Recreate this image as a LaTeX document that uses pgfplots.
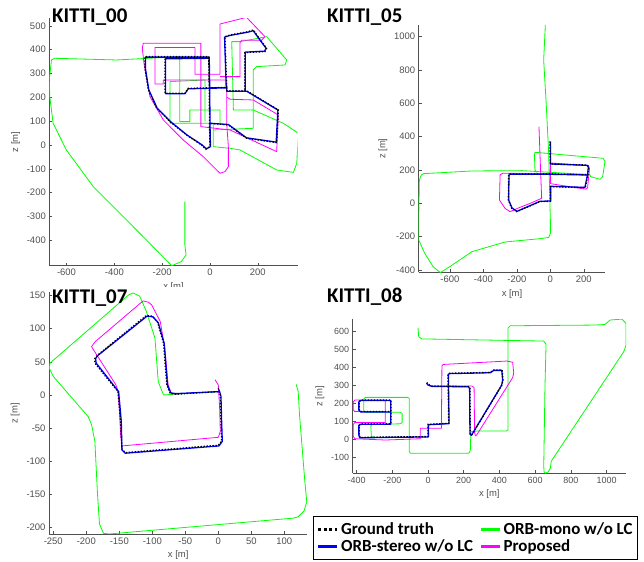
\documentclass[border=0pt]{standalone}
\usepackage{pgfplots}
\pgfplotsset{compat=1.18}
\usepackage{fontspec}
\setmainfont{Liberation Sans}
\newfontfamily\calfont{Carlito}
\definecolor{tickgray}{RGB}{80,80,80}
\definecolor{mgreen}{RGB}{0,255,0}
\definecolor{mmag}{RGB}{255,0,255}
\definecolor{mblue}{RGB}{0,0,255}
\pgfplotsset{
 kitti/.style={
  scale only axis, anchor=south west,
  axis x line*=bottom, axis y line*=left,
  axis line style={draw=tickgray, line width=0.6bp},
  tick style={draw=tickgray, line width=0.5bp},
  tick align=inside, major tick length=3bp,
  /pgf/number format/assume math mode=true,
  /pgf/number format/1000 sep={},
  tick label style={font=\fontsize{9.5}{10}\selectfont, text=tickgray},
  label style={font=\fontsize{9.5}{10}\selectfont, text=tickgray},
  xlabel={x [m]}, ylabel={z [m]},
 },
 gt/.style={black, line width=1.3bp, dash pattern=on 1.3bp off 1.7bp, forget plot},
 st/.style={mblue, line width=1.3bp, line join=round, forget plot},
 mo/.style={mgreen, line width=0.8bp, line join=round, forget plot},
 pr/.style={mmag, line width=0.8bp, line join=round, forget plot},
}
\begin{document}
\begin{tikzpicture}
\path[use as bounding box] (0bp,0bp) rectangle (644bp,562bp);
% ---------------- KITTI_00
\begin{axis}[kitti, at={(49.3bp,296.3bp)}, width=248.4bp, height=247.4bp,
  xmin=-672, xmax=367, ymin=-507, ymax=532,
  xtick={-600,-400,-200,0,200}, ytick={-400,-300,...,500}]
\addplot[mo] coordinates {(-105,-238) (-105,-420) (-100,-462) (-120,-490) (-160,-507) (-321,-343) (-488,-175) (-600,-22) (-656,91) (-670,203) (-672,273) (-663,357) (-649,364) (-391,357) (-126,371) (-126,98) (-84,98) (-84,147) (42,147) (42,84)};
\addplot[mo] coordinates {(-21,100) (-21,273) (-167,266) (-167,91) (14,91) (14,-7) (84,-14) (126,-21) (279,-105) (349,-115) (363,-77) (370,49) (307,91) (181,147) (98,147) (91,434) (126,434) (237,455) (321,357) (314,336) (195,329) (181,315) (181,70) (14,63)};
\addplot[pr] coordinates {(77,-7) (77,-91) (63,-112) (42,-119) (-28,-49) (-112,21) (-195,105) (-251,203) (-276,343) (-283,406) (-279,427) (-38,427) (-38,77) (84,63) (279,-28) (286,126) (181,189) (84,192) (72,200)};
\addplot[pr] coordinates {(77,-7) (70,90) (70,273) (-153,273) (-195,273) (-195,256) (-230,256) (-230,409) (-63,409) (-63,297) (42,297) (42,508) (153,536) (230,455) (216,440) (132,440) (126,430) (126,287) (42,287)};
\addplot[st] coordinates {(2,0) (0,91) (-1,240) (-3,369) (-270,369) (-270,322) (-256,232) (-221,155) (-165,98) (-96,42) (-33,0) (-15,-16) (2,-7) (2,0) (0,91) (77,86) (153,30) (277,12) (284,147) (153,226) (70,226) (70,240) (-3,238) (-91,236) (-105,215) (-186,215) (-186,362) (-3,364) (-1,240) (68,240) (61,453) (84,460) (160,474) (181,480) (214,434) (235,406) (228,394) (148,390) (148,228)};
\addplot[gt] coordinates {(0,0) (-2,91) (-3,240) (-5,371) (-272,371) (-272,322) (-258,232) (-223,155) (-167,98) (-98,42) (-35,0) (-17,-18) (0,-7) (0,0) (-2,91) (77,84) (153,28) (279,10) (286,147) (153,228) (70,228) (70,242) (-3,240) (-91,238) (-105,217) (-188,217) (-188,364) (-5,366) (-3,240) (70,242) (63,455) (84,462) (160,476) (181,483) (216,434) (237,406) (230,392) (146,388) (146,228)};
\end{axis}
\fill[white] (0bp,0bp) rectangle (322bp,275bp);
% ---------------- KITTI_05
\begin{axis}[kitti, at={(418.7bp,289.7bp)}, width=186.6bp, height=247.3bp,
  xmin=-786, xmax=328, ymin=-414, ymax=1070,
  xtick={-600,-400,-200,0,200}, ytick={-400,-200,...,1000}]
\addplot[mo] coordinates {(-30,1070) (-40,860) (-25,600) (-10,300) (-5,100) (0,-100) (0,-180) (-10,-205) (-60,-212) (-269,-232) (-468,-290) (-600,-380) (-657,-416) (-700,-380) (-750,-300) (-786,-220) (-786,-100) (-782,140) (-770,170) (-756,178) (-468,194) (-169,196) (0,186) (236,172) (240,160) (297,144) (312,160) (326,250) (316,270) (-92,306) (-95,290) (-92,200) (-80,186)};
\addplot[pr] coordinates {(-68,460) (-60,240) (-52,30) (-120,0) (-181,-24) (-241,-50) (-271,-30) (-304,20) (-300,170) (-285,180) (0,178) (230,170)};
\addplot[pr] coordinates {(0,118) (0,242) (226,226) (234,210) (222,92) (210,85) (0,118)};
\addplot[st] coordinates {(0,370) (1,236) (218,228) (227,218) (222,172) (206,95) (193,96) (2,102) (2,14) (-62,12) (-199,-48) (-229,-28) (-249,20) (-247,170) (-239,174) (2,174) (222,170)};
\addplot[gt] coordinates {(-2,372) (-1,236) (218,230) (229,220) (225,172) (209,95) (195,94) (0,100) (0,12) (-62,10) (-201,-50) (-231,-30) (-251,20) (-249,170) (-241,176) (0,176) (225,172)};
\end{axis}
% ---------------- KITTI_07
\begin{axis}[kitti, at={(49bp,28bp)}, width=258.3bp, height=241.7bp,
  xmin=-256.5, xmax=134.8, ymin=-210, ymax=155,
  xtick={-250,-200,...,100}, ytick={-200,-150,...,150}]
\addplot[mo] coordinates {(118,16) (121,5) (123,-30) (131,-130) (134,-161) (130,-175) (121,-184) (114,-186) (-154,-209) (-165,-210) (-174,-209) (-180,-195) (-183,-150) (-187,-70) (-192,-45) (-197,-33) (-250,28) (-256,40) (-255,48) (-136,151) (-129,154) (-119,149) (-109,126) (-96,86) (-91,20) (-83,0) (-3,5)};
\addplot[pr] coordinates {(-5,23) (0,15) (2,-20) (3,-55) (0,-64) (-146,-77) (-148,-60) (-150,-20) (-152,5) (-155,15) (-189,68) (-192,73) (-187,80) (-114,142) (-106,140) (-101,136) (-88,111) (-81,70) (-76,15) (-71,2) (-60,1)};
\addplot[st] coordinates {(1,8) (4,-2) (5,-40) (6,-70) (1,-77) (-141,-88) (-146,-83) (-147,-40) (-151,5) (-185,48) (-186,55) (-182,60) (-108,119) (-99,118) (-91,109) (-82,78) (-77,15) (-72,3) (-64,2) (1,5)};
\addplot[gt] coordinates {(0,10) (3,0) (4,-40) (5,-70) (0,-76) (-141,-87) (-146,-82) (-148,-40) (-152,5) (-187,48) (-187,55) (-183,60) (-109,120) (-100,119) (-92,110) (-83,78) (-78,15) (-73,3) (-65,1) (0,5)};
\end{axis}
% ---------------- KITTI_08
\begin{axis}[kitti, at={(352.7bp,88.7bp)}, width=273.3bp, height=154bp,
  xmin=-421.6, xmax=1108.6, ymin=-187, ymax=669,
  xtick={-400,-200,...,1000}, ytick={-100,0,...,600},
  tick label style={font=\fontsize{9}{10}\selectfont, text=tickgray},
  legend columns=2,
  legend cell align=left,
  legend image code/.code={\draw[#1] (0bp,0bp) -- (19bp,0bp);},
  legend style={at={(-0.1453,-0.2775)}, anchor=north west, draw=black, line width=1.2bp,
    fill=white, font=\calfont\bfseries\fontsize{17}{19}\selectfont,
    inner xsep=3bp, inner ysep=4bp,
    /tikz/every even column/.append style={column sep=4bp}}]
\addlegendimage{black, line width=3bp, dash pattern=on 3bp off 2.5bp}
\addlegendentry{Ground truth}
\addlegendimage{mgreen, line width=3.5bp}
\addlegendentry{ORB-mono w/o LC}
\addlegendimage{mblue, line width=3.5bp}
\addlegendentry{ORB-stereo w/o LC}
\addlegendimage{mmag, line width=3.5bp}
\addlegendentry{Proposed}
\addplot[mo] coordinates {(-56,622) (-52,572) (-35,560) (648,548) (661,530) (655,300) (648,-150) (650,-178) (657,-187) (672,-180) (685,-159) (690,-120) (1096,489) (1109,526) (1109,646) (1086,670) (1020,665) (990,640) (937,637) (461,633) (448,620) (448,54) (440,48) (274,48) (240,44) (237,-60) (228,-76) (-99,-76) (-105,-65) (-105,230) (-115,235) (-351,235) (-360,225) (-360,160) (-350,152) (-155,152) (-145,145) (-145,95) (-155,88) (-314,85) (-320,75) (-317,17) (-300,14)};
\addplot[pr] coordinates {(5,310) (10,298) (246,298) (258,290) (261,40) (265,22) (272,25) (474,345) (480,370) (474,430) (442,437) (85,418) (78,410) (75,63) (-43,63) (-43,5) (-239,-2) (-410,5) (-418,17) (-418,85) (-410,95) (-239,95) (-239,220) (-410,220) (-418,210) (-418,165) (-410,156) (-239,156)};
\addplot[st] coordinates {(-8,314) (-2,305) (22,296) (226,294) (233,284) (235,30) (243,24) (412,302) (418,330) (413,385) (368,385) (349,372) (118,367) (114,360) (118,89) (2,83) (2,15) (-207,13) (-382,10) (-387,25) (-387,80) (-377,86) (-209,86) (-209,218) (-377,218) (-387,210) (-387,165) (-377,154) (-209,154)};
\addplot[gt] coordinates {(-6,318) (0,307) (22,298) (228,295) (235,285) (237,30) (245,26) (414,304) (420,330) (415,387) (368,387) (349,374) (116,369) (112,360) (116,91) (0,85) (0,17) (-207,15) (-380,12) (-385,25) (-385,80) (-375,88) (-207,88) (-207,220) (-375,220) (-385,212) (-385,165) (-375,156) (-207,156)};
\end{axis}
% titles
\node[anchor=base west, font=\calfont\bfseries\fontsize{21}{21}\selectfont, inner sep=0pt] at (52bp,539bp) {KITTI\_00};
\node[anchor=base west, font=\calfont\bfseries\fontsize{21}{21}\selectfont, inner sep=0pt] at (327bp,539bp) {KITTI\_05};
\node[anchor=base west, font=\calfont\bfseries\fontsize{21}{21}\selectfont, inner sep=0pt] at (52bp,258bp) {KITTI\_07};
\node[anchor=base west, font=\calfont\bfseries\fontsize{21}{21}\selectfont, inner sep=0pt] at (327bp,259bp) {KITTI\_08};
\end{tikzpicture}
\end{document}
